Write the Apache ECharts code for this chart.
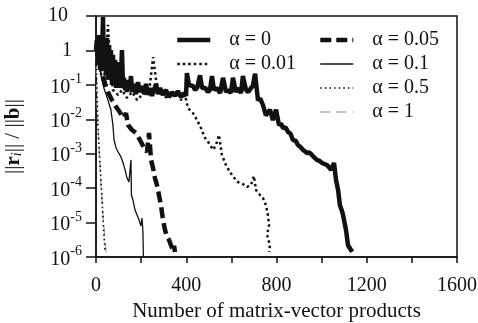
<!DOCTYPE html>
<html>
<head>
<meta charset="utf-8">
<script src="https://cdn.jsdelivr.net/npm/echarts@6/dist/echarts.min.js"></script>
<style>
  html, body { margin: 0; padding: 0; background: #fff; }
  #chart { width: 478px; height: 323px; }
</style>
</head>
<body>
<div id="chart"></div>
<script>
// Residual history ||r_i|| / ||b|| versus number of matrix-vector products, one curve per alpha.
const seriesNames = ['α = 0', 'α = 0.01', 'α = 0.05', 'α = 0.1', 'α = 0.5', 'α = 1'];

const alpha0 = [
  [0, 1.03], [4, 2.0], [9, 0.38], [13, 2.8], [18, 0.27], [22, 1.44], [27, 0.53], [31, 9.35],
  [35, 0.27], [40, 2.0], [44, 0.19], [49, 2.3], [53, 0.14], [58, 1.44], [62, 0.16], [66, 1.03],
  [71, 0.099], [75, 0.74], [80, 0.12], [84, 0.53], [89, 0.081], [93, 0.38], [98, 0.099],
  [102, 0.46], [106, 0.081], [111, 0.19], [115, 1.03], [120, 0.081], [124, 0.16], [129, 0.071],
  [133, 0.14], [137, 0.062], [142, 0.12], [146, 0.071], [151, 0.099], [155, 0.18], [160, 0.062],
  [168, 0.106], [177, 0.054], [186, 0.12], [195, 0.062], [204, 0.093], [213, 0.054], [222, 0.106],
  [230, 0.051], [239, 0.081], [248, 0.048], [257, 0.071], [266, 0.106], [275, 0.054], [284, 0.081],
  [297, 0.051], [310, 0.071], [324, 0.044], [337, 0.062], [350, 0.048], [363, 0.066], [377, 0.044],
  [390, 0.058], [399, 0.048], [403, 0.22], [412, 0.099], [430, 0.093], [439, 0.071], [448, 0.081],
  [461, 0.19], [470, 0.081], [485, 0.081], [496, 0.062], [505, 0.071], [514, 0.18], [523, 0.071],
  [535, 0.081], [550, 0.058], [563, 0.16], [576, 0.062], [585, 0.071], [598, 0.058], [607, 0.16],
  [620, 0.062], [630, 0.081], [643, 0.058], [651, 0.18], [665, 0.071], [675, 0.062], [687, 0.081],
  [695, 0.093], [705, 0.21], [718, 0.036], [728, 0.04], [740, 0.026], [753, 0.013], [771, 0.019],
  [784, 0.0095], [798, 0.019], [811, 0.0068], [820, 0.0075], [829, 0.0056], [840, 0.0058],
  [851, 0.0043], [862, 0.0038], [873, 0.0025], [885, 0.0024], [895, 0.0018], [905, 0.0016],
  [917, 0.0013], [935, 0.00105], [945, 0.0011], [957, 9.2e-4], [967, 7.8e-4], [979, 6.6e-4],
  [990, 6.2e-4], [1002, 5.4e-4], [1013, 5.0e-4], [1024, 4.7e-4], [1042, 3.4e-4], [1055, 5.4e-4],
  [1064, 1.7e-4], [1073, 8.8e-5], [1081, 3.2e-5], [1090, 2.2e-5], [1095, 1.66e-5], [1108, 6.1e-6],
  [1117, 2.2e-6], [1124, 2.0e-6], [1130, 1.6e-6], [1135, 1.4e-6]
];

const alpha001 = [
  [0, 2.0], [18, 0.27], [35, 0.099], [53, 5.5], [62, 0.53], [75, 0.071], [98, 0.051], [115, 0.071],
  [137, 0.042], [160, 0.062], [182, 0.036], [204, 0.051], [226, 0.062], [239, 0.099], [253, 0.64],
  [266, 0.14], [275, 0.071], [293, 0.051], [315, 0.042], [337, 0.051], [359, 0.062], [377, 0.036],
  [394, 0.051], [408, 0.021], [430, 0.015], [448, 0.0095], [465, 0.0056], [483, 0.0029],
  [501, 0.0020], [519, 0.0013], [532, 0.0018], [545, 0.0035], [558, 9.2e-4], [576, 4.7e-4],
  [594, 2.9e-4], [612, 2.0e-4], [629, 1.5e-4], [652, 1.3e-4], [669, 1.08e-4], [687, 1.25e-4],
  [700, 2.25e-4], [709, 8.8e-5], [727, 6.3e-5], [740, 5.2e-5], [753, 3.2e-5], [762, 1.66e-5],
  [767, 8.5e-6], [758, 4.4e-6], [771, 2.2e-6], [767, 1.4e-6]
];

const alpha005 = [
  [0, 1.44], [18, 0.38], [35, 0.14], [53, 0.062], [71, 0.036], [89, 0.023], [106, 0.016],
  [120, 0.011], [133, 0.015], [142, 0.0068], [160, 0.0049], [177, 0.0040], [195, 0.0025],
  [213, 0.00147], [226, 0.00112], [235, 0.0040], [244, 6.6e-4], [253, 3.8e-4], [261, 2.0e-4],
  [270, 1.24e-4], [279, 6.3e-5], [288, 3.2e-5], [297, 1.19e-5], [306, 6.1e-6], [315, 3.8e-6],
  [324, 3.1e-6], [332, 2.2e-6], [341, 1.6e-6], [346, 2.1e-6], [350, 1.4e-6]
];

const alpha01 = [
  [0, 2.0], [9, 0.74], [22, 0.19], [35, 0.081], [53, 0.036], [66, 0.019], [75, 0.0068],
  [80, 0.0025], [89, 0.00147], [98, 0.00112], [111, 8.0e-4], [120, 5.4e-4], [129, 3.4e-4],
  [137, 2.0e-4], [146, 1.5e-4], [155, 6.6e-4], [157, 6.3e-5], [164, 4.5e-5], [173, 2.3e-5],
  [182, 1.66e-5], [191, 1.19e-5], [199, 8.0e-6], [204, 1.36e-5], [208, 5.3e-6], [210, 1.07e-6]
];

const alpha05 = [
  [0, 1.0], [4, 0.07], [9, 0.0049], [18, 4.7e-4], [27, 4.5e-5], [35, 4.4e-6], [40, 1.6e-6]
];

const alpha1 = [
  [0, 1.0], [4, 0.036], [13, 0.0018], [22, 1.24e-4], [31, 1.66e-5], [40, 3.1e-6], [46, 1.07e-6]
];

const xTicks = { min: 0, max: 1600, step: 200, labelStep: 400 };
const yRange = { min: 1e-6, max: 10 };

const serif = 'Liberation Serif';
const black = '#111';

// Stroke styles per curve, shared by the plotted lines and their legend keys.
const styles = [
  { color: black, width: 4.5, type: 'solid' },
  { color: black, width: 2.5, type: [2.5, 3] },
  { color: black, width: 4.5, type: [11, 5] },
  { color: black, width: 1.3, type: 'solid' },
  { color: black, width: 1.6, type: [1.6, 3] },
  { color: '#aaa', width: 1.3, type: [10, 6] }
];
const curves = [alpha0, alpha001, alpha005, alpha01, alpha05, alpha1];

const chart = echarts.init(document.getElementById('chart'), null, { renderer: 'canvas' });

function legendItem(i) {
  return { name: seriesNames[i], lineStyle: Object.assign({}, styles[i]) };
}

const legendText = { fontFamily: serif, fontSize: 20, color: black, lineHeight: 20, padding: [0, 0, 0, 14] };
const legendBase = {
  orient: 'vertical', top: 25,
  itemWidth: 33, itemHeight: 14, itemGap: 4,
  itemStyle: { opacity: 0 },
  textStyle: legendText
};

// Draw order: faint curves first, alpha = 0 on top.
const series = [];
for (let i = curves.length - 1; i >= 0; i--) {
  series.push({
    name: seriesNames[i],
    type: 'line',
    data: curves[i],
    symbol: 'none',
    z: 10 - i,
    lineStyle: styles[i],
    itemStyle: { color: styles[i].color },
    animation: false
  });
}

chart.setOption({
  backgroundColor: '#fff',
  animation: false,
  grid: {
    left: 96, right: 21, top: 16, bottom: 66,
    containLabel: false, outerBoundsMode: 'none',
    show: true, borderColor: black, borderWidth: 1.5, backgroundColor: 'transparent'
  },
  legend: [
    Object.assign({}, legendBase, { data: [legendItem(0), legendItem(1)], left: 170 }),
    Object.assign({}, legendBase, { data: [legendItem(2), legendItem(3), legendItem(4), legendItem(5)], left: 313 })
  ],
  xAxis: {
    type: 'value',
    min: xTicks.min, max: xTicks.max, interval: xTicks.step,
    name: 'Number of matrix-vector products',
    nameLocation: 'middle', nameGap: 30,
    nameTextStyle: { fontFamily: serif, fontSize: 21, color: black },
    axisLine: { lineStyle: { color: black, width: 1.5 } },
    axisTick: { inside: false, length: 6, lineStyle: { color: black, width: 1.5 } },
    axisLabel: {
      fontFamily: serif, fontSize: 20, color: black, margin: 19,
      formatter: function (v) { return v % xTicks.labelStep === 0 ? String(v) : ''; }
    },
    splitLine: { show: false }
  },
  yAxis: {
    type: 'log', logBase: 10,
    min: yRange.min, max: yRange.max,
    name: '{n|||}{b|r}{s|i}{n||| / ||}{b|b}{n|||}',
    nameLocation: 'middle', nameGap: 72, nameRotate: 90,
    nameTextStyle: {
      color: black,
      rich: {
        n: { fontFamily: serif, fontSize: 21, color: black },
        b: { fontFamily: serif, fontSize: 21, fontWeight: 'bold', color: black },
        s: { fontFamily: serif, fontSize: 14, fontStyle: 'italic', color: black, verticalAlign: 'bottom' }
      }
    },
    axisLine: { lineStyle: { color: black, width: 1.5 } },
    axisTick: { inside: false, length: 10, lineStyle: { color: black, width: 1.5 } },
    minorTick: { show: false },
    axisLabel: {
      margin: 14, align: 'right',
      formatter: function (v) {
        const e = Math.round(Math.log10(v));
        if (e === 1) return '{ten|10}';
        if (e === 0) return '{one|1}';
        return '{base|10}{sup|' + e + '}';
      },
      rich: {
        ten: { fontFamily: serif, fontSize: 20, color: black, padding: [0, 14, 0, 0] },
        one: { fontFamily: serif, fontSize: 20, color: black, padding: [0, 10, 0, 0] },
        base: { fontFamily: serif, fontSize: 20, color: black, verticalAlign: 'bottom', padding: [5, 0, 0, 0] },
        sup: { fontFamily: serif, fontSize: 14, color: black, verticalAlign: 'top' }
      }
    },
    splitLine: { show: false }
  },
  series: series
});
</script>
</body>
</html>
